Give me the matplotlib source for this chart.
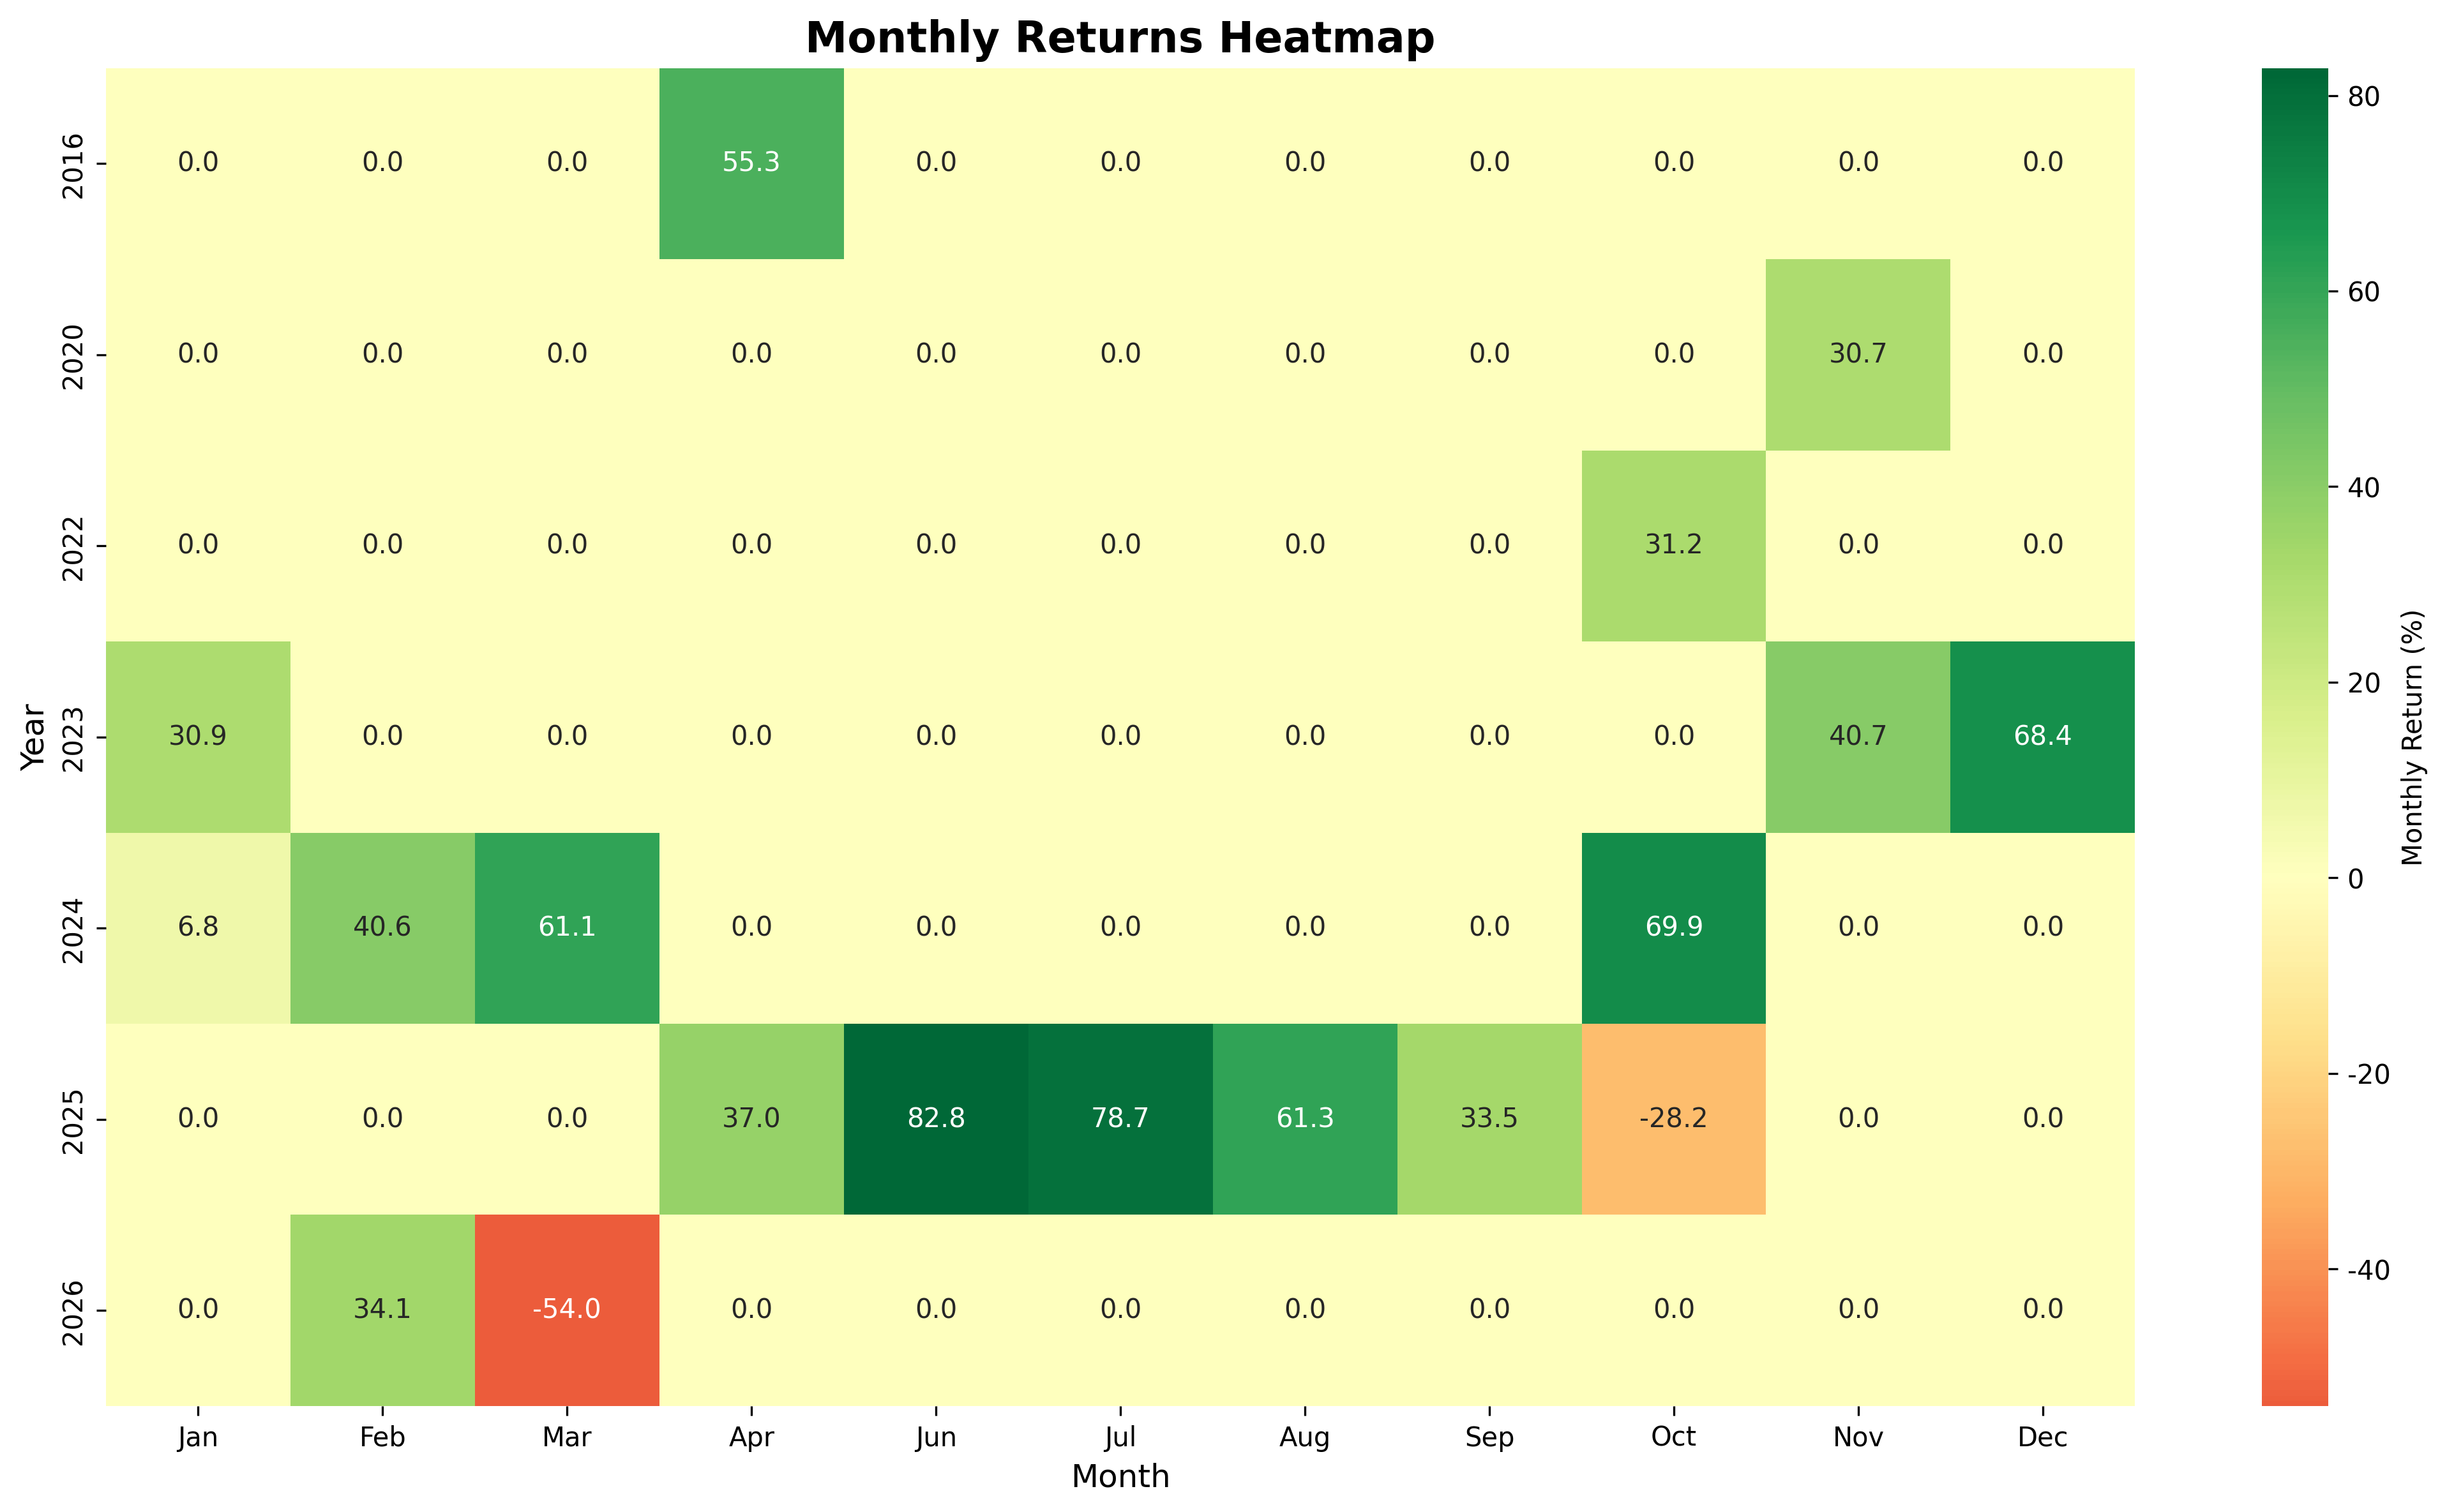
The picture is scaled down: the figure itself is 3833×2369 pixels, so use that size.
import matplotlib
matplotlib.use("Agg")
import matplotlib.pyplot as plt
import seaborn as sns
import pandas as pd
import numpy as np

plt.rcParams["axes.unicode_minus"] = False

years = [2016, 2020, 2022, 2023, 2024, 2025, 2026]
months = ["Jan", "Feb", "Mar", "Apr", "Jun", "Jul", "Aug", "Sep", "Oct", "Nov", "Dec"]
r2016 = [0.0, 0.0, 0.0, 55.3, 0.0, 0.0, 0.0, 0.0, 0.0, 0.0, 0.0]
r2020 = [0.0, 0.0, 0.0, 0.0, 0.0, 0.0, 0.0, 0.0, 0.0, 30.7, 0.0]
r2022 = [0.0, 0.0, 0.0, 0.0, 0.0, 0.0, 0.0, 0.0, 31.2, 0.0, 0.0]
r2023 = [30.9, 0.0, 0.0, 0.0, 0.0, 0.0, 0.0, 0.0, 0.0, 40.7, 68.4]
r2024 = [6.8, 40.6, 61.1, 0.0, 0.0, 0.0, 0.0, 0.0, 69.9, 0.0, 0.0]
r2025 = [0.0, 0.0, 0.0, 37.0, 82.8, 78.7, 61.3, 33.5, -28.2, 0.0, 0.0]
r2026 = [0.0, 34.1, -54.0, 0.0, 0.0, 0.0, 0.0, 0.0, 0.0, 0.0, 0.0]

df = pd.DataFrame([r2016, r2020, r2022, r2023, r2024, r2025, r2026],
                  index=years, columns=months)

W, H = 3833, 2369
dpi = 300
fig = plt.figure(figsize=((W + 0.4) / dpi, (H + 0.4) / dpi), dpi=dpi)
ax = fig.add_axes([166 / W, (H - 2203) / H, (3344 - 166) / W, (2203 - 107) / H])
cax = fig.add_axes([3543 / W, (H - 2203) / H, (3647 - 3543) / W, (2203 - 107) / H])

sns.heatmap(df, annot=True, fmt=".1f", cmap="RdYlGn", center=0, ax=ax,
            cbar_ax=cax, cbar_kws={"label": "Monthly Return (%)"})
ax.set_title("Monthly Returns Heatmap", fontsize=16, fontweight="bold")
ax.set_xlabel("Month", fontsize=12)
ax.set_ylabel("Year", fontsize=12)
fig.savefig("out.png", dpi=dpi)
